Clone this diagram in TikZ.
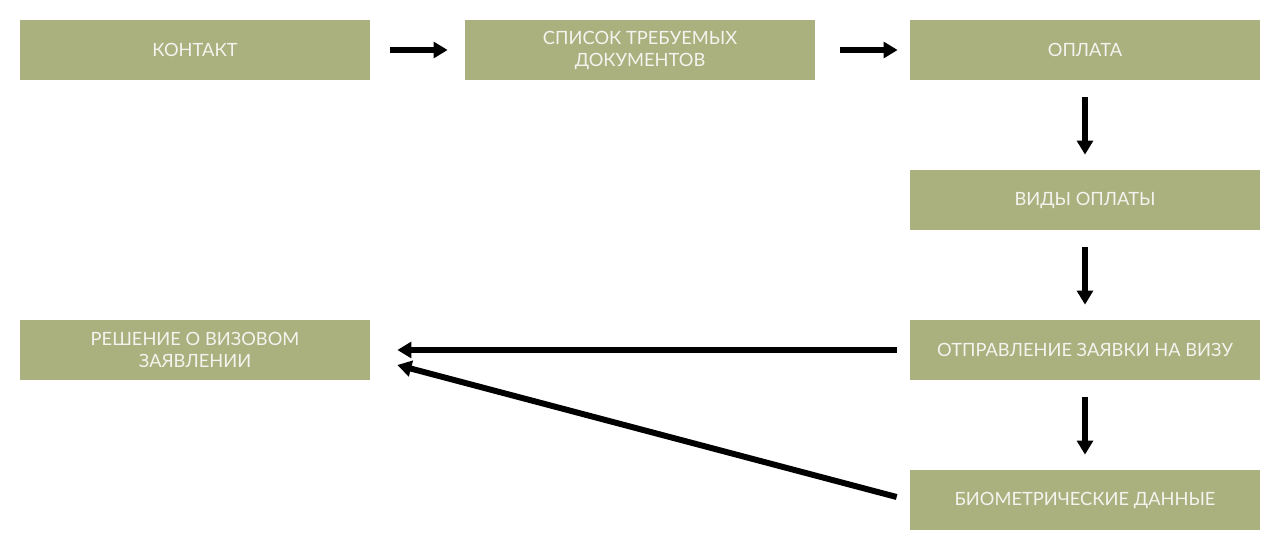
\documentclass[tikz,border=0pt]{standalone}
\usepackage{fontspec}
\setmainfont{Lato}
\usetikzlibrary{arrows.meta}
\definecolor{boxgreen}{HTML}{ABB07F}
\definecolor{boxtext}{HTML}{F4F4EE}
\tikzset{
    stage/.style={fill=boxgreen, text=boxtext, minimum width=7cm, minimum height=1.2cm, align=center, font=\fontsize{10.4}{12.5}\selectfont, inner sep=0pt},
    flow/.style={line width=3.4pt, -{Triangle[length=8pt,width=9pt]}}
}
\begin{document}
\begin{tikzpicture}
        \useasboundingbox (0,0) rectangle (25.6,-11);
        \node [stage] (kontakt) at (3.9,-1) {КОНТАКТ};
        \node [stage] (spisok) at (12.8,-1) {СПИСОК ТРЕБУЕМЫХ\\ДОКУМЕНТОВ};
        \node [stage] (oplata) at (21.7,-1) {ОПЛАТА};
        \node [stage] (vidy) at (21.7,-4) {ВИДЫ ОПЛАТЫ};
        \node [stage] (otpr) at (21.7,-7) {ОТПРАВЛЕНИЕ ЗАЯВКИ НА ВИЗУ};
        \node [stage] (bio) at (21.7,-10) {БИОМЕТРИЧЕСКИЕ ДАННЫЕ};
        \node [stage] (resh) at (3.9,-7) {РЕШЕНИЕ О ВИЗОВОМ\\ЗАЯВЛЕНИИ};
        \draw [flow, shorten <=0.4cm, shorten >=0.34cm] (kontakt) -- (spisok);
        \draw [flow, shorten <=0.5cm, shorten >=0.24cm] (spisok) -- (oplata);
        \draw [flow, shorten <=0.34cm, shorten >=0.3cm] (oplata) -- (vidy);
        \draw [flow, shorten <=0.34cm, shorten >=0.3cm] (vidy) -- (otpr);
        \draw [flow, shorten <=0.34cm, shorten >=0.3cm] (otpr) -- (bio);
        \draw [flow, shorten <=0.26cm, shorten >=0.54cm] (otpr) -- (resh);
        \coordinate (bioend) at ([xshift=-0.26cm, yshift=0.06cm]bio.west);
        \coordinate (reshend) at ([xshift=0.54cm, yshift=-0.3cm]resh.east);
        \draw [flow] (bioend) -- (reshend);
    \end{tikzpicture}
\end{document}
